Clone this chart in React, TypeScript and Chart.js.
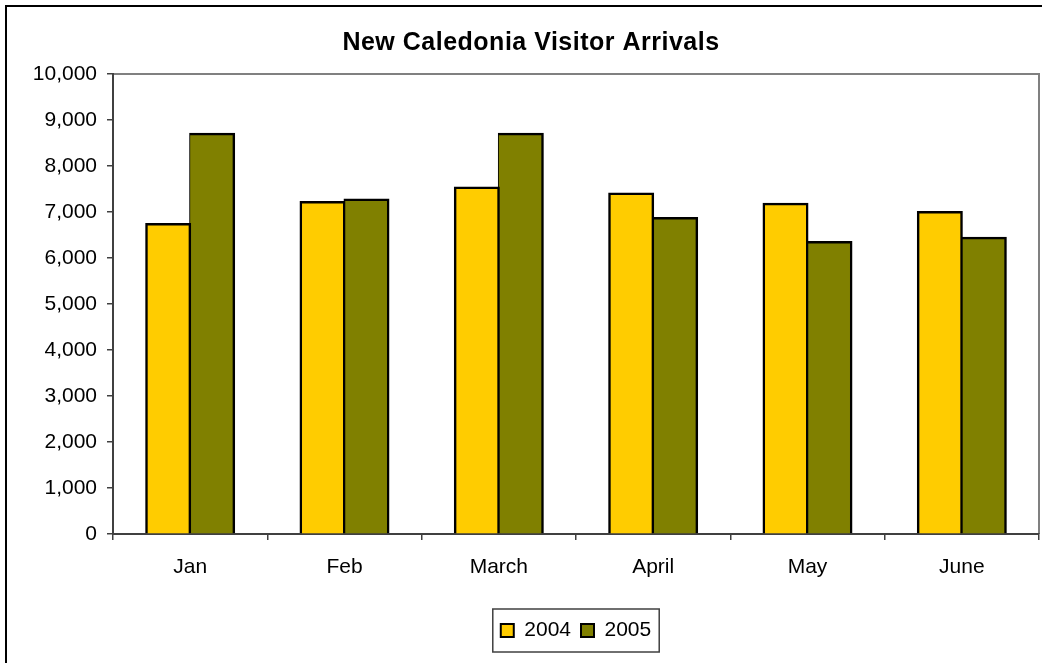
import React, { useEffect, useRef } from 'react';
import { Chart, registerables } from 'chart.js';

Chart.register(...registerables);

const titleText = 'New Caledonia Visitor Arrivals';
const categories = ['Jan', 'Feb', 'March', 'April', 'May', 'June'];
const seriesLabels = ['2004', '2005'];
const values2004 = [6740, 7220, 7530, 7400, 7180, 7000];
const values2005 = [8700, 7270, 8700, 6870, 6350, 6440];
const yMin = 0;
const yMax = 10000;
const yStep = 1000;

const FONT = '"Liberation Sans", Arial, Helvetica, sans-serif';

const framePlugin = {
  id: 'excelFrame',
  beforeDraw(chart: any) {
    const ctx = chart.ctx;
    const a = chart.chartArea;
    ctx.save();
    ctx.fillStyle = '#ffffff';
    ctx.fillRect(0, 0, chart.width, chart.height);
    // outer chart border (top + left visible)
    ctx.fillStyle = '#000000';
    ctx.fillRect(5, 5, 1037, 2);
    ctx.fillRect(5, 5, 2, chart.height);
    // plot area border (top + right)
    ctx.strokeStyle = '#808080';
    ctx.lineWidth = 2;
    ctx.beginPath();
    ctx.moveTo(a.left, a.top);
    ctx.lineTo(a.right, a.top);
    ctx.lineTo(a.right, a.bottom);
    ctx.stroke();
    // title
    ctx.fillStyle = '#000000';
    ctx.font = 'bold 25px ' + FONT;
    try { (ctx as any).letterSpacing = '0.5px'; } catch (e) {}
    ctx.textAlign = 'center';
    ctx.textBaseline = 'alphabetic';
    ctx.fillText(titleText, 531, 50);
    ctx.restore();
  },
  afterDraw(chart: any) {
    const hb = chart.legend && chart.legend.legendHitBoxes;
    if (!hb || !hb.length) return;
    const ctx = chart.ctx;
    const first = hb[0];
    const last = hb[hb.length - 1];
    const cy = first.top + first.height / 2;
    const l = first.left - 8;
    const r = last.left + last.width + 8;
    ctx.save();
    ctx.strokeStyle = '#404040';
    ctx.lineWidth = 1.5;
    ctx.strokeRect(l, cy - 21.5, r - l, 43);
    ctx.restore();
  },
};

export default function App() {
  const ref = useRef<HTMLCanvasElement | null>(null);

  useEffect(() => {
    if (!ref.current) return;
    const chart = new Chart(ref.current, {
      type: 'bar',
      data: {
        labels: categories,
        datasets: [
          {
            label: seriesLabels[0],
            data: values2004,
            backgroundColor: '#FFCC00',
            borderColor: '#000000',
            borderWidth: { top: 2.5, left: 2.5, right: 2.5, bottom: 0 },
            inflateAmount: 1,
            categoryPercentage: 0.57,
            barPercentage: 1.0,
          },
          {
            label: seriesLabels[1],
            data: values2005,
            backgroundColor: '#808000',
            borderColor: '#000000',
            borderWidth: { top: 2.5, left: 1, right: 2.5, bottom: 0 },
            inflateAmount: 1,
            categoryPercentage: 0.57,
            barPercentage: 1.0,
          },
        ],
      },
      options: {
        responsive: false,
        animation: false,
        devicePixelRatio: 1,
        layout: { padding: { top: 74, right: 8, bottom: 12, left: 0 } },
        plugins: {
          title: { display: false },
          tooltip: { enabled: false },
          legend: {
            display: true,
            position: 'bottom',
            fullSize: false,
            labels: {
              boxWidth: 13,
              boxHeight: 13,
              padding: 10,
              color: '#000000',
              font: { family: FONT, size: 21 },
              generateLabels: (c: any) =>
                c.data.datasets.map((ds: any, i: number) => ({
                  text: ds.label,
                  fillStyle: ds.backgroundColor,
                  strokeStyle: '#000000',
                  lineWidth: 2,
                  fontColor: '#000000',
                  hidden: !c.isDatasetVisible(i),
                  datasetIndex: i,
                })),
            },
          },
        },
        scales: {
          x: {
            grid: {
              display: true,
              drawOnChartArea: false,
              drawTicks: true,
              tickLength: 6,
              color: '#404040',
              lineWidth: 1.5,
              offset: true,
            },
            border: { display: true, color: '#404040', width: 2 },
            ticks: {
              color: '#000000',
              font: { family: FONT, size: 21 },
              padding: 15,
              maxRotation: 0,
            },
            afterFit: (s: any) => { s.height = 76; },
          },
          y: {
            min: yMin,
            max: yMax,
            grid: {
              display: true,
              drawOnChartArea: false,
              drawTicks: true,
              tickLength: 6,
              color: '#404040',
              lineWidth: 1.5,
            },
            border: { display: true, color: '#404040', width: 2 },
            ticks: {
              stepSize: yStep,
              color: '#000000',
              font: { family: FONT, size: 21 },
              padding: 10,
              callback: (v: any) => Number(v).toLocaleString('en-US'),
            },
            afterFit: (s: any) => { s.width = 113; },
          },
        },
      },
      plugins: [framePlugin],
    } as any);
    return () => chart.destroy();
  }, []);

  return (
    <div style={{ position: 'fixed', left: 0, top: 0, width: 1047, height: 663, overflow: 'hidden', background: '#fff' }}>
      <canvas ref={ref} width={1047} height={663} style={{ width: 1047, height: 663, display: 'block' }} />
    </div>
  );
}
